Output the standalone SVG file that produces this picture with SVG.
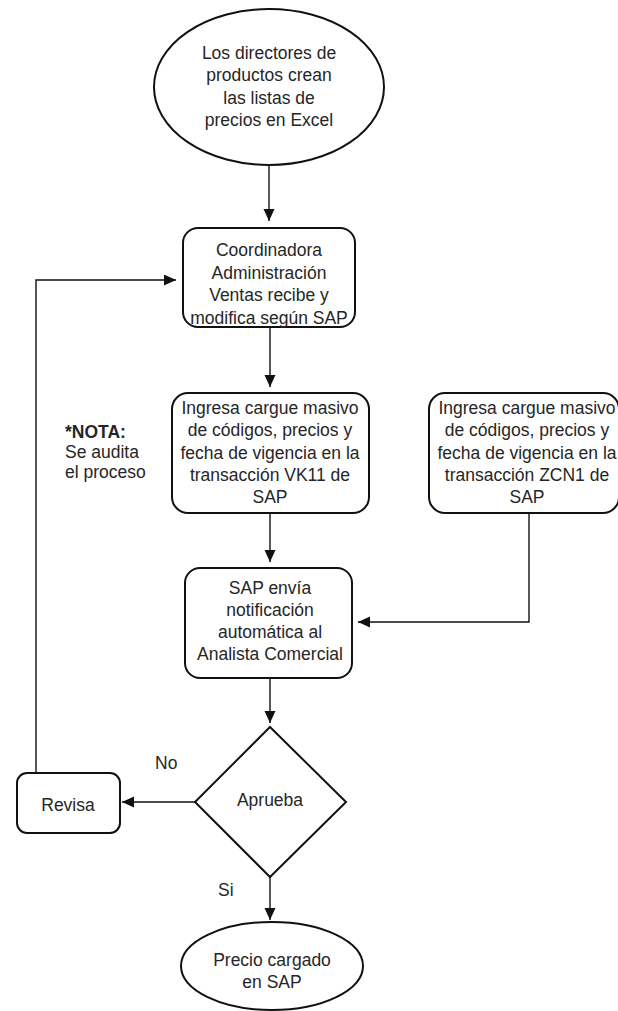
<svg xmlns="http://www.w3.org/2000/svg" width="618" height="1011" viewBox="0 0 618 1011">
<style>
.shape{fill:#fff;stroke:#111;stroke-width:2}
.conn{fill:none;stroke:#111;stroke-width:1.4}
text{font-family:"Liberation Sans",Arial,sans-serif;font-size:17.5px;fill:#262626}
.c{text-anchor:middle}
.b{font-weight:bold}
</style>
<defs>
<marker id="arr" markerUnits="userSpaceOnUse" markerWidth="13" markerHeight="12" refX="12" refY="5.5" orient="auto">
<path d="M0,0 L12,5.5 L0,11 z" fill="#111"/>
</marker>
</defs>
<rect width="618" height="1011" fill="#fff"/>
<g id="connectors">
<line class="conn" x1="269" y1="166" x2="269" y2="221" marker-end="url(#arr)"/>
<line class="conn" x1="270" y1="328" x2="270" y2="387" marker-end="url(#arr)"/>
<line class="conn" x1="270" y1="513" x2="270" y2="562" marker-end="url(#arr)"/>
<polyline class="conn" points="529,513 529,622 358,622" marker-end="url(#arr)"/>
<line class="conn" x1="270" y1="678" x2="270" y2="723" marker-end="url(#arr)"/>
<line class="conn" x1="195" y1="802" x2="122" y2="802" marker-end="url(#arr)"/>
<polyline class="conn" points="36,773 36,280 176,280" marker-end="url(#arr)"/>
<line class="conn" x1="270" y1="877" x2="270" y2="920" marker-end="url(#arr)"/>
</g>
<g id="start">
<ellipse class="shape" cx="269" cy="87" rx="115" ry="78"/>
<text class="c" x="269" y="58.5">Los directores de</text>
<text class="c" x="269" y="81">productos crean</text>
<text class="c" x="269" y="103.5">las listas de</text>
<text class="c" x="269" y="126">precios en Excel</text>
</g>
<g id="coordinadora">
<rect class="shape" x="183" y="228" width="172" height="99" rx="15"/>
<text class="c" x="269" y="256">Coordinadora</text>
<text class="c" x="269" y="278.5">Administración</text>
<text class="c" x="269" y="301">Ventas recibe y</text>
<text class="c" x="269" y="323.5">modifica según SAP</text>
</g>
<g id="vk11">
<rect class="shape" x="172" y="393" width="197" height="120" rx="16"/>
<text class="c" x="270" y="414">Ingresa cargue masivo</text>
<text class="c" x="270" y="436">de códigos, precios y</text>
<text class="c" x="270" y="458.5">fecha de vigencia en la</text>
<text class="c" x="270" y="481">transacción VK11 de</text>
<text class="c" x="270" y="503">SAP</text>
</g>
<g id="zcn1">
<rect class="shape" x="429" y="393" width="190" height="120" rx="16"/>
<text class="c" x="527" y="414">Ingresa cargue masivo</text>
<text class="c" x="527" y="436">de códigos, precios y</text>
<text class="c" x="527" y="458.5">fecha de vigencia en la</text>
<text class="c" x="527" y="481">transacción ZCN1 de</text>
<text class="c" x="527" y="503">SAP</text>
</g>
<g id="nota">
<text x="65" y="438"><tspan class="b">*NOTA:</tspan></text>
<text x="65" y="457.5">Se audita</text>
<text x="65" y="477.5">el proceso</text>
</g>
<g id="notificacion">
<rect class="shape" x="185" y="568" width="167" height="110" rx="15"/>
<text class="c" x="270" y="594">SAP envía</text>
<text class="c" x="270" y="616">notificación</text>
<text class="c" x="270" y="638">automática al</text>
<text class="c" x="270" y="660">Analista Comercial</text>
</g>
<g id="aprueba">
<polygon class="shape" points="270,727 346,802 270,877 195,802"/>
<text class="c" x="270" y="806">Aprueba</text>
</g>
<g id="revisa">
<rect class="shape" x="17" y="773" width="103" height="60" rx="10"/>
<text class="c" x="68" y="811">Revisa</text>
</g>
<g id="labels">
<text x="155" y="769">No</text>
<text x="218" y="896">Si</text>
</g>
<g id="end">
<ellipse class="shape" cx="272" cy="966" rx="91" ry="44"/>
<text class="c" x="272" y="966">Precio cargado</text>
<text class="c" x="272" y="988">en SAP</text>
</g>
</svg>
